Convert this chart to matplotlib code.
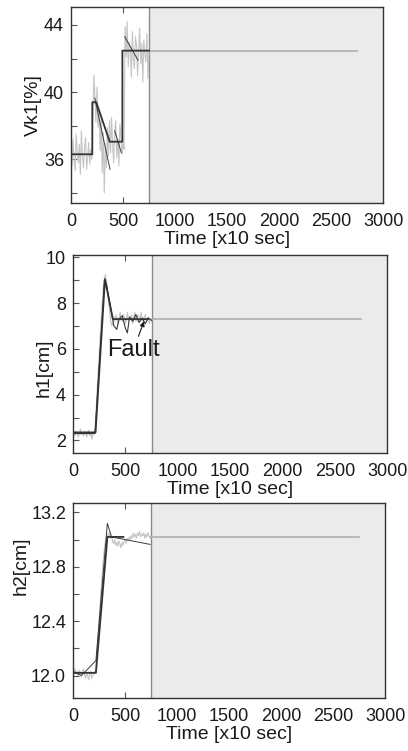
import numpy as np
import matplotlib
matplotlib.use('Agg')
import matplotlib.pyplot as plt

plt.rcParams['font.family'] = ['Liberation Sans', 'DejaVu Sans']

# ---- data ----
t_switch = 750      # end of measured window, start of shaded part
t_end = 2750        # end of the flat prediction line

# Vk1 [%]
vk1_noise = [36.8, 35.6, 37.2, 36.0, 35.3, 37.5, 36.4, 35.8, 36.9, 35.1, 37.7, 36.2, 35.5, 36.7,
             37.3, 35.4, 36.1, 37.0, 35.7, 36.6, 36.0,
             38.5, 41.0, 39.8, 38.2, 40.3, 37.9, 39.0, 36.5, 38.4, 35.2, 37.6, 34.0, 36.8, 35.5,
             37.9, 36.2, 38.3,
             36.4, 38.5, 36.9, 35.8, 37.6, 38.3, 36.1, 37.2, 35.6, 38.1, 37.4, 36.3, 37.0, 36.6,
             43.9, 42.1, 44.2, 41.5, 43.0, 42.6, 40.9, 43.6, 42.0, 41.4, 43.3, 42.8, 41.0, 42.4,
             43.8, 41.7, 42.9, 40.6, 43.1, 42.2, 41.8, 43.5, 40.8, 42.5]
vk1_step_t = [0, 205, 205, 243, 372, 494, 494, 750]
vk1_step_v = [36.3, 36.3, 39.4, 39.4, 37.05, 37.05, 42.47, 42.47]
vk1_saw = [([228, 375], [39.65, 35.4]),
           ([420, 484], [37.7, 36.4]),
           ([516, 644], [43.3, 41.9])]
vk1_final = 42.47

# h1 [cm]
h1_noise = [2.45, 2.3, 2.2, 2.4, 2.35, 2.15, 2.3, 2.5, 2.25, 2.35, 2.2, 2.4, 2.3, 2.15, 2.35,
            2.45, 2.2, 2.3, 2.05, 2.25, 2.35,
            2.5, 3.3, 4.2, 5.0, 5.8, 6.6, 7.4, 8.1, 8.7, 9.1, 9.25, 8.9, 8.5, 8.0, 7.6, 7.2,
            7.0, 7.1,
            7.4, 7.2, 7.5, 7.3, 7.1, 7.4, 7.6, 7.3, 7.2, 7.5, 7.4, 7.1, 7.3, 7.6, 7.2, 7.4,
            7.3, 7.5, 7.1, 7.4, 7.6, 7.2, 7.3, 7.5, 7.4, 7.2, 7.6, 7.3, 7.1, 7.4, 7.5, 7.2,
            7.3, 7.4, 7.1, 7.3, 7.2]
h1_step_t = [0, 215, 305, 380, 720]
h1_step_v = [2.35, 2.35, 9.05, 7.3, 7.3]
h1_model_t = [0, 210, 300, 320, 390, 417, 440, 470, 500, 519, 540, 570, 600, 630, 660, 690, 720, 750]
h1_model_v = [2.3, 2.3, 9.0, 8.8, 7.0, 6.85, 7.3, 7.45, 6.9, 6.7, 7.4, 7.2, 7.5, 7.15, 7.35, 7.1, 7.35, 7.25]
h1_final = 7.3

# h2 [cm]
h2_noise = [12.04, 12.02, 12.05, 12.01, 12.03, 12.0, 12.04, 12.02, 11.99, 12.03, 12.05, 12.01,
            11.98, 12.02, 12.0, 11.97, 12.01, 12.03, 11.98, 12.0, 12.02, 12.03,
            12.05, 12.15, 12.28, 12.4, 12.52, 12.63, 12.74, 12.84, 12.92, 12.98, 13.02, 13.04, 13.03,
            13.05, 13.01, 13.03, 12.99, 12.97, 13.0, 12.96, 12.98, 12.95, 12.99, 12.97, 12.94,
            12.98, 12.96, 12.99, 13.0, 12.97, 13.01, 12.99, 13.02, 13.0, 13.03, 13.01, 13.05,
            13.02, 13.04, 13.01, 13.05, 13.03, 13.06, 13.02, 13.04, 13.03, 13.05, 13.01, 13.04,
            13.02, 13.05, 13.03, 13.01, 13.02]
h2_step_t = [0, 220, 330, 484]
h2_step_v = [12.02, 12.02, 13.02, 13.02]
h2_model_t = [0, 80, 220, 330, 370, 740]
h2_model_v = [12.03, 12.0, 12.11, 13.12, 13.02, 12.965]
h2_final = 13.02

xticks = [0, 500, 1000, 1500, 2000, 2500, 3000]

panels = [
    dict(pos=[0.174, 0.7297, 0.765, 0.261], ylim=(33.4, 45.07), yticks=[34, 36, 38, 40, 42, 44],
         ylabels=['', '36', '', '40', '', '44'], ylab='Vk1[%]', labxy=(-0.093, 0.5),
         noise=vk1_noise, st=vk1_step_t, sv=vk1_step_v, final=vk1_final),
    dict(pos=[0.179, 0.3968, 0.770, 0.2636], ylim=(1.45, 10.1), yticks=[2, 3, 4, 5, 6, 7, 8, 9, 10],
         ylabels=['2', '', '4', '', '6', '', '8', '', '10'], ylab='h1[cm]', labxy=(-0.064, 0.43),
         noise=h1_noise, st=h1_step_t, sv=h1_step_v, final=h1_final),
    dict(pos=[0.179, 0.0706, 0.765, 0.2597], ylim=(11.835, 13.27),
         yticks=[12.0, 12.2, 12.4, 12.6, 12.8, 13.0, 13.2],
         ylabels=['12.0', '', '12.4', '', '12.8', '', '13.2'], ylab='h2[cm]', labxy=(-0.138, 0.68),
         noise=h2_noise, st=h2_step_t, sv=h2_step_v, final=h2_final),
]

fig = plt.figure(figsize=(4.08, 7.51), dpi=100)
axes = []
for p in panels:
    ax = fig.add_axes(p['pos'])
    axes.append(ax)
    ax.axvspan(t_switch, 3000, color='#ebebeb', zorder=0, lw=0)
    ax.axvline(t_switch, color='#8a8a8a', lw=1.0, zorder=1)
    tn = 10 * np.arange(len(p['noise']))
    ax.plot(tn, p['noise'], color='#c4c4c4', lw=0.8, zorder=2)
    ax.plot([t_switch, t_end], [p['final'], p['final']], color='#b0b0b0', lw=1.2, zorder=2)
    ax.plot(p['st'], p['sv'], color='#333333', lw=1.3, zorder=4)
    ax.set_xlim(0, 3000)
    ax.set_ylim(*p['ylim'])
    ax.set_xticks(xticks)
    ax.set_yticks(p['yticks'])
    ax.set_yticklabels(p['ylabels'])
    ax.tick_params(direction='in', length=4, width=0.8, colors='#555555', labelcolor='#1a1a1a',
                   labelsize=13)
    ax.tick_params(axis='x', pad=7, top=True)
    ax.tick_params(axis='y', pad=5, right=False)
    # only the 500 tick mark shows in the white part; none over the shaded part
    for k, tk in enumerate(ax.xaxis.get_major_ticks()):
        if k != 1:
            tk.tick1line.set_visible(False)
            tk.tick2line.set_visible(False)
    for s in ax.spines.values():
        s.set_color('#333333')
        s.set_linewidth(1.0)
    ax.set_xlabel('Time [x10 sec]', fontsize=14, color='#1a1a1a', labelpad=1)
    ax.set_ylabel(p['ylab'], fontsize=14, color='#1a1a1a')
    ax.yaxis.set_label_coords(*p['labxy'])

# thin model lines
for xs, ys in vk1_saw:
    axes[0].plot(xs, ys, color='#3a3a3a', lw=0.7, zorder=3)
axes[1].plot(h1_model_t, h1_model_v, color='#3a3a3a', lw=0.8, zorder=3)
axes[2].plot(h2_model_t, h2_model_v, color='#3a3a3a', lw=0.7, zorder=3)

# fault annotation
axes[1].annotate('Fault', xy=(678, 7.2), xytext=(575, 5.95), fontsize=17, color='#1a1a1a',
                 ha='center', va='center',
                 arrowprops=dict(arrowstyle='-|>', color='#1a1a1a', lw=0.8,
                                 mutation_scale=7, shrinkA=12, shrinkB=0))

fig.savefig('out.png', dpi=100, facecolor='white')
